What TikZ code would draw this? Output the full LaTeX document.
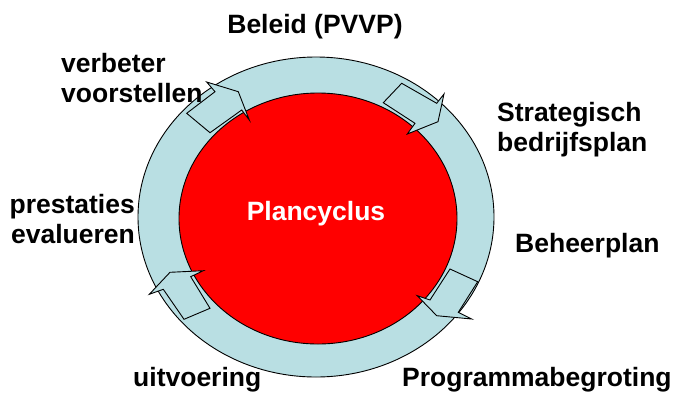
\documentclass[tikz,border=0pt]{standalone}
\usepackage{fontspec}
\setmainfont{Liberation Sans}
\usetikzlibrary{shapes.geometric}
\definecolor{ringblue}{RGB}{185,223,227}
\definecolor{planred}{RGB}{255,0,0}
\tikzset{
  lbl/.style={inner sep=0pt, font=\fontsize{26.5}{30}\selectfont\bfseries},
  ringshape/.style={ellipse, draw=black, line width=0.9pt, fill=ringblue, inner sep=0pt},
  coreshape/.style={ellipse, draw=black, line width=0.9pt, fill=planred, inner sep=0pt},
  blockarrow/.style={draw=black, line width=0.9pt, fill=ringblue, line join=miter}
}
\begin{document}
\begin{tikzpicture}[x=1pt,y=-1pt]
\useasboundingbox (0,0) rectangle (681,392);

% ring and planning core
\node[ringshape, minimum width=356pt, minimum height=320pt] (ring) at (316,217) {};
\node[coreshape, minimum width=278pt, minimum height=251pt] (core) at (318,218.5) {};

% block arrows around the ring
\draw[blockarrow] (186.7,113.3) -- (215,91.7) -- (206.7,82) -- (238.3,91.7)
  -- (249.3,120) -- (241.7,110) -- (210,132.7) -- cycle;
\draw[blockarrow] (401.7,83.3) -- (436.7,103.3) -- (444,94) -- (438,121.7)
  -- (407.3,134) -- (415,123.3) -- (383.3,102.7) -- cycle;
\draw[blockarrow] (450,269) -- (477.7,281.7) -- (458.3,312.3) -- (471.7,319)
  -- (436.7,315.7) -- (417.3,295.7) -- (430,300) -- cycle;
\draw[blockarrow] (149.3,294.3) -- (170,272.3) -- (203.3,270.7) -- (190.7,276.7)
  -- (210,308.3) -- (184,319.3) -- (163.3,289.3) -- cycle;

% labels
\node[lbl, anchor=base, text=white] (plancyclus) at (316,220) {Plancyclus};
\node[lbl, anchor=base] (beleid) at (315,33) {Beleid (PVVP)};
\node[lbl, anchor=base west] (strat1) at (497,121) {Strategisch};
\node[lbl, anchor=base west] (strat2) at (497,151) {bedrijfsplan};
\node[lbl, anchor=base west] (beheer) at (515,252) {Beheerplan};
\node[lbl, anchor=base west] (progr) at (402,386) {Programmabegroting};
\node[lbl, anchor=base west] (uitv) at (133,386) {uitvoering};
\node[lbl, anchor=base east] (prest1) at (135,213) {prestaties};
\node[lbl, anchor=base east] (prest2) at (135,243) {evalueren};
\node[lbl, anchor=base west] (verb1) at (61,72) {verbeter};
\node[lbl, anchor=base west] (verb2) at (61,102) {voorstellen};
\end{tikzpicture}
\end{document}
